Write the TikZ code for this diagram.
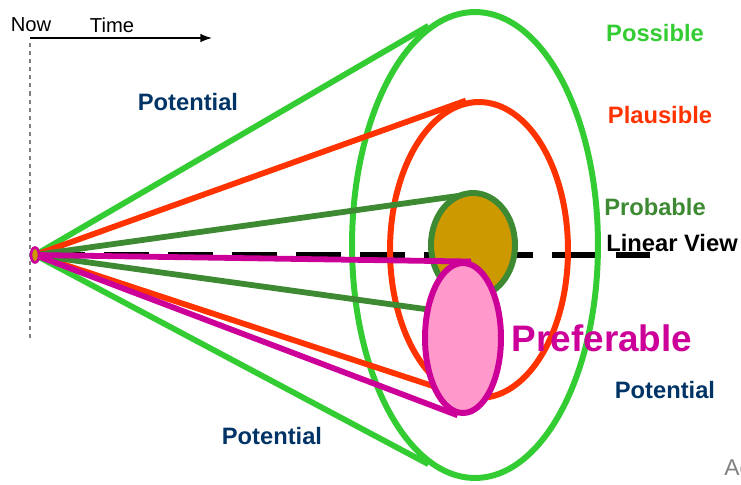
\documentclass[tikz,border=0pt]{standalone}
\usepackage{fontspec}
\setmainfont{Liberation Sans}
\usetikzlibrary{arrows.meta,positioning,shapes.geometric}
\usepackage{xcolor}
\definecolor{possgreen}{HTML}{33CC33}
\definecolor{plausred}{HTML}{FF3300}
\definecolor{probgreen}{HTML}{3D8A33}
\definecolor{probgold}{HTML}{CC9900}
\definecolor{prefpink}{HTML}{FF99CC}
\definecolor{prefmag}{HTML}{CC0099}
\definecolor{potblue}{HTML}{003366}

\begin{document}
\begin{tikzpicture}[x=0.02cm,y=-0.02cm,>=Latex, every node/.style={font=\fontsize{13.5}{16}\selectfont\bfseries}]
\tikzstyle{oval}=[ellipse, draw, line width=3.4pt, inner sep=0pt]
\tikzstyle{ray}=[line width=3.3pt]
\tikzstyle{lbl}=[inner sep=0pt, anchor=center]
\useasboundingbox (0,0) rectangle (741,484);
% time axis
\node[lbl, font=\fontsize{11.5}{14}\selectfont] (now) at (31,25) {Now};
\node[lbl, font=\fontsize{11.5}{14}\selectfont] (time) at (112,25) {Time};
\coordinate (t0) at (30,38);
\coordinate (t1) at (212,38);
\draw[->, line width=0.8pt] (t0) -- (t1);
\coordinate (d0) at (30,43);
\coordinate (d1) at (30,340);
\draw[gray, line width=0.7pt, dash pattern=on 2.3pt off 2.3pt] (d0) -- (d1);
% linear view
\coordinate (apex) at (35,255);
\coordinate (lend) at (650,255);
\draw[line width=3.4pt, dash pattern=on 0.9cm off 0.38cm] ([xshift=0.1cm]apex) -- (lend);
% possible
\node[oval, possgreen, minimum width=4.92cm, minimum height=9.32cm] (possible) at (475,245) {};
\draw[ray, possgreen] (apex) -- (possible.102);
\draw[ray, possgreen] (apex) -- (possible.258);
% plausible
\node[oval, plausred, minimum width=3.56cm, minimum height=5.92cm] (plausible) at (479,250) {};
\draw[ray, plausred] (apex) -- (plausible.95);
\draw[ray, plausred] (apex) -- (plausible.256);
% probable
\coordinate (probend) at (432,310);
\draw[ray, probgreen] (apex) -- (probend);
\draw[ray, probgreen] (apex) -- (472,194);
\node[oval, probgreen, fill=probgold, minimum width=1.68cm, minimum height=2.08cm] (probable) at (473,245) {};
% preferable
\node[oval, prefmag, fill=prefpink, minimum width=1.52cm, minimum height=3.0cm] (preferable) at (463,338) {};
\draw[ray, prefmag] (apex) -- (preferable.84);
\draw[ray, prefmag] (apex) -- (preferable.266);
\node[ellipse, draw=prefmag, fill=probgold, line width=1.5pt, inner sep=0pt, minimum width=0.16cm, minimum height=0.3cm] (origin) at (apex) {};
% labels
\node[lbl, possgreen] (lposs) at (655,33) {Possible};
\node[lbl, plausred] (lplaus) at (660,115) {Plausible};
\node[lbl, probgreen] (lprob) at (655,207) {Probable};
\node[lbl, black] (llin) at (672,243) {Linear View};
\node[lbl, prefmag, font=\fontsize{21}{24}\selectfont\bfseries] (lpref) at (602,338) {Preferable};
\node[lbl, potblue] (pot1) at (188,102) {Potential};
\node[lbl, potblue] (pot2) at (665,390) {Potential};
\node[lbl, potblue] (pot3) at (272,436) {Potential};
\node[lbl, gray, anchor=west, font=\fontsize{13}{15}\selectfont] (ac) at (724,468) {Ac};
\end{tikzpicture}
\end{document}
